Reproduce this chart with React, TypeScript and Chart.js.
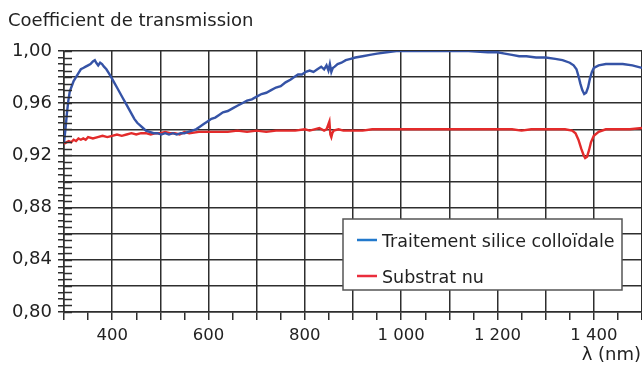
import React, { useEffect, useRef } from "react";
import { Chart, registerables } from "chart.js";

Chart.register(...registerables);

const TITLE = "Coefficient de transmission";
const X_TITLE = "λ (nm)";
const SERIES_NAMES = ["Traitement silice colloïdale", "Substrat nu"];

const blueNm = [
  300, 303, 306, 309, 312, 316, 320, 325, 330, 335, 340, 345, 350, 355, 360, 364, 367, 371, 375, 379,
  383, 388, 393, 398, 404, 410, 416, 422, 428, 434, 440, 446, 452, 458, 464, 470, 478, 486, 494, 502,
  510, 518, 526, 534, 542, 550, 558, 566, 574, 582, 590, 598, 606, 614, 622, 630, 640, 650, 660, 670,
  680, 690, 700, 710, 720, 730, 740, 750, 760, 770, 778, 786, 794, 802, 810, 818, 826, 834, 840, 845,
  849, 852, 855, 858, 862, 868, 876, 885, 895, 905, 920, 935, 950, 970, 990, 1020, 1060, 1100, 1140, 1180,
  1200, 1215, 1230, 1245, 1260, 1280, 1300, 1320, 1335, 1350, 1358, 1364, 1368, 1372, 1376, 1380, 1384, 1388, 1392, 1396,
  1400, 1410, 1425, 1440, 1460, 1480, 1500,
];
const blueT = [
  0.930, 0.940, 0.952, 0.962, 0.969, 0.973, 0.977, 0.980, 0.983, 0.986, 0.987, 0.988, 0.989, 0.990, 0.992, 0.993, 0.991, 0.989, 0.991, 0.990,
  0.988, 0.986, 0.983, 0.980, 0.976, 0.972, 0.968, 0.964, 0.960, 0.956, 0.952, 0.948, 0.945, 0.943, 0.941, 0.939, 0.938, 0.937, 0.937, 0.936,
  0.937, 0.936, 0.937, 0.936, 0.937, 0.937, 0.938, 0.939, 0.940, 0.942, 0.944, 0.946, 0.948, 0.949, 0.951, 0.953, 0.954, 0.956, 0.958, 0.960,
  0.962, 0.963, 0.965, 0.967, 0.968, 0.970, 0.972, 0.973, 0.976, 0.978, 0.980, 0.982, 0.982, 0.984, 0.985, 0.984, 0.986, 0.988, 0.986, 0.989,
  0.985, 0.990, 0.984, 0.987, 0.988, 0.990, 0.991, 0.993, 0.994, 0.995, 0.996, 0.997, 0.998, 0.999, 1.000, 1.000, 1.000, 1.000, 1.000, 0.999,
  0.999, 0.998, 0.997, 0.996, 0.996, 0.995, 0.995, 0.994, 0.993, 0.991, 0.989, 0.986, 0.981, 0.975, 0.970, 0.967, 0.968, 0.972, 0.979, 0.984,
  0.987, 0.989, 0.990, 0.990, 0.990, 0.989, 0.987,
];

const redNm = [
  300, 305, 310, 315, 320, 325, 330, 335, 340, 345, 350, 360, 370, 380, 390, 400, 410, 420, 430, 440,
  450, 460, 470, 480, 490, 500, 510, 520, 530, 540, 550, 560, 580, 600, 620, 640, 660, 680, 700, 720,
  740, 760, 780, 800, 810, 820, 830, 840, 845, 849, 851, 853, 855, 857, 860, 870, 880, 900, 920, 940,
  960, 1000, 1050, 1100, 1150, 1200, 1230, 1250, 1270, 1300, 1320, 1340, 1355, 1362, 1368, 1374, 1379, 1382, 1386, 1390,
  1394, 1400, 1410, 1425, 1450, 1475, 1500,
];
const redT = [
  0.929, 0.930, 0.931, 0.930, 0.932, 0.931, 0.933, 0.932, 0.933, 0.932, 0.934, 0.933, 0.934, 0.935, 0.934, 0.935, 0.936, 0.935, 0.936, 0.937,
  0.936, 0.937, 0.937, 0.936, 0.937, 0.937, 0.938, 0.937, 0.937, 0.936, 0.938, 0.937, 0.938, 0.938, 0.938, 0.938, 0.939, 0.938, 0.939, 0.938,
  0.939, 0.939, 0.939, 0.940, 0.939, 0.940, 0.941, 0.939, 0.940, 0.944, 0.946, 0.936, 0.934, 0.937, 0.939, 0.940, 0.939, 0.939, 0.939, 0.940,
  0.940, 0.940, 0.940, 0.940, 0.940, 0.940, 0.940, 0.939, 0.940, 0.940, 0.940, 0.940, 0.939, 0.937, 0.932, 0.925, 0.920, 0.918, 0.919, 0.924,
  0.930, 0.935, 0.938, 0.940, 0.940, 0.940, 0.941,
];

const X_MIN = 300;
const X_MAX = 1500;
const Y_MIN = 0.8;
const Y_MAX = 1.0;

const LINE_COLORS = ["#3553a6", "#e32b2b"];
const LEGEND_COLORS = ["#2279cc", "#ea2d3c"];
const INK = "#222222";
const GRID = "#2e2e2e";
const FONT = "'DejaVu Sans', sans-serif";

function fmtX(v: number): string {
  if (v >= 1000) {
    const th = Math.floor(v / 1000);
    const rest = String(v % 1000).padStart(3, "0");
    return th + " " + rest;
  }
  return String(v);
}

const decorPlugin = {
  id: "decor",
  afterDraw(chart: any) {
    const ctx = chart.ctx;
    const y = chart.scales.y;
    const x = chart.scales.x;
    ctx.save();
    // inner part of the y tick marks
    ctx.strokeStyle = GRID;
    ctx.lineWidth = 1.5;
    y.ticks.forEach((t: any) => {
      const py = Math.round(y.getPixelForValue(t.value)) + 0.5;
      ctx.beginPath();
      ctx.moveTo(x.left, py);
      ctx.lineTo(x.left + 8, py);
      ctx.stroke();
    });
    // title
    ctx.fillStyle = INK;
    ctx.font = "18px " + FONT;
    ctx.textAlign = "left";
    ctx.textBaseline = "alphabetic";
    ctx.fillText(TITLE, 8, 26);
    // x title
    ctx.textAlign = "right";
    ctx.fillText(X_TITLE, 641, 360);
    // legend box
    const bx = 343, by = 219, bw = 279, bh = 71;
    ctx.fillStyle = "#ffffff";
    ctx.fillRect(bx, by, bw, bh);
    ctx.strokeStyle = "#555555";
    ctx.lineWidth = 1.5;
    ctx.strokeRect(bx, by, bw, bh);
    ctx.textAlign = "left";
    ctx.font = "17.5px " + FONT;
    const rows = [240, 276];
    SERIES_NAMES.forEach((name, i) => {
      ctx.strokeStyle = LEGEND_COLORS[i];
      ctx.lineWidth = 2.5;
      ctx.beginPath();
      ctx.moveTo(357, rows[i]);
      ctx.lineTo(377, rows[i]);
      ctx.stroke();
      ctx.fillStyle = INK;
      ctx.fillText(name, 382, rows[i] + 6.5);
    });
    ctx.restore();
  },
};

export default function App() {
  const ref = useRef<HTMLCanvasElement | null>(null);
  useEffect(() => {
    if (!ref.current) return;
    const chart = new Chart(ref.current, {
      type: "line",
      data: {
        datasets: [
          {
            label: SERIES_NAMES[0],
            data: blueNm.map((n, i) => ({ x: n, y: blueT[i] })),
            borderColor: LINE_COLORS[0],
            borderWidth: 2.4,
            pointRadius: 0,
            tension: 0,
          },
          {
            label: SERIES_NAMES[1],
            data: redNm.map((n, i) => ({ x: n, y: redT[i] })),
            borderColor: LINE_COLORS[1],
            borderWidth: 2.4,
            pointRadius: 0,
            tension: 0,
          },
        ],
      },
      options: {
        animation: false,
        responsive: false,
        devicePixelRatio: 1,
        layout: { padding: { top: 51, left: 0, right: 0, bottom: 0 } },
        plugins: { legend: { display: false }, title: { display: false }, tooltip: { enabled: false } },
        scales: {
          x: {
            type: "linear",
            min: X_MIN,
            max: X_MAX,
            afterFit(s: any) {
              s.height = 59;
              s.paddingLeft = 0;
              s.paddingRight = 0;
            },
            ticks: {
              stepSize: 50,
              autoSkip: false,
              maxRotation: 0,
              padding: 6,
              color: INK,
              font: { family: FONT, size: 16.5 },
              callback(v: any) {
                const n = Math.round(Number(v));
                return n % 200 === 0 ? fmtX(n) : "";
              },
            },
            grid: {
              color: (c: any) => (c.tick && Math.round(c.tick.value) % 100 === 0 ? GRID : "rgba(0,0,0,0)"),
              lineWidth: 1.5,
              tickLength: 8,
              tickColor: GRID,
            },
            border: { display: true, color: GRID, width: 1.5 },
          },
          y: {
            type: "linear",
            min: Y_MIN,
            max: Y_MAX,
            afterFit(s: any) {
              s.width = 64;
              s.paddingTop = 0;
              s.paddingBottom = 0;
            },
            ticks: {
              stepSize: 0.005,
              autoSkip: false,
              padding: 6,
              color: INK,
              font: { family: FONT, size: 18 },
              callback(v: any) {
                const k = Math.round(Number(v) * 1000);
                return k % 40 === 0 ? (k / 1000).toFixed(2).replace(".", ",") : "";
              },
            },
            grid: {
              color: (c: any) => (c.tick && Math.round(c.tick.value * 1000) % 20 === 0 ? GRID : "rgba(0,0,0,0)"),
              lineWidth: 1.5,
              tickLength: 6,
              tickColor: GRID,
            },
            border: { display: true, color: GRID, width: 1.5 },
          },
        },
      },
      plugins: [decorPlugin],
    });
    return () => chart.destroy();
  }, []);
  return (
    <div style={{ position: "fixed", left: 0, top: 0, width: 642, height: 371, background: "#fff" }}>
      <canvas ref={ref} width={642} height={371} style={{ display: "block" }} />
    </div>
  );
}
